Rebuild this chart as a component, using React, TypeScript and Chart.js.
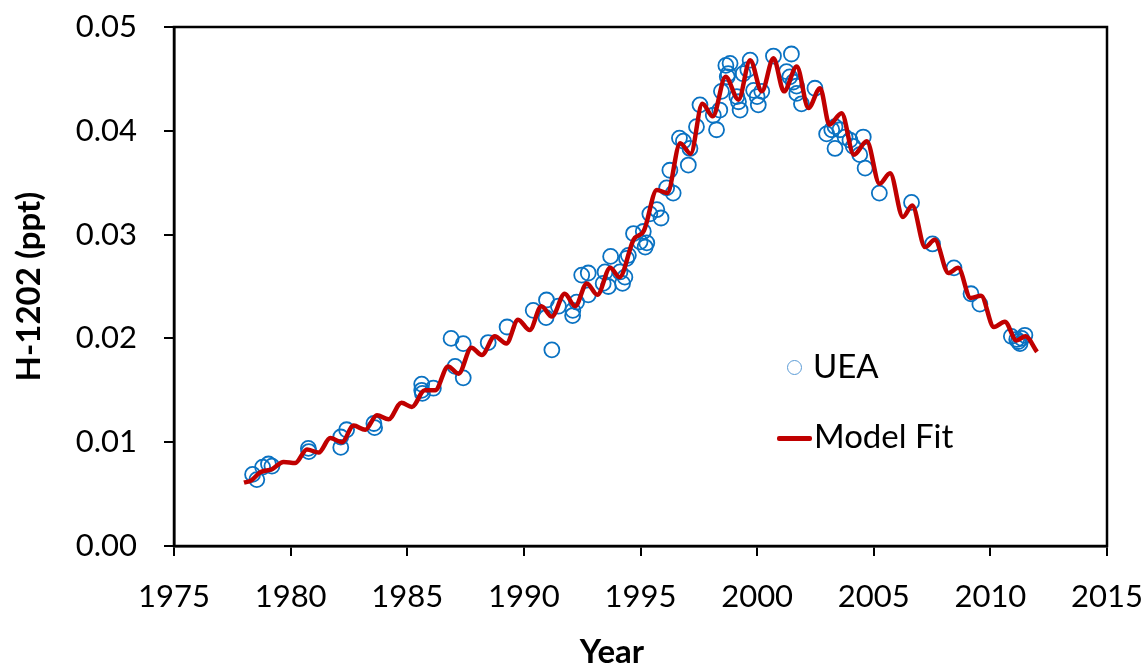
import React, { useEffect, useRef } from 'react';
import { Chart, registerables } from 'chart.js';

Chart.register(...registerables);

// UEA observations (year, ppt)
const ueaYears = [
  1978.37, 1978.55, 1978.8, 1979.05, 1979.2,
  1980.76, 1980.78, 1982.15, 1982.4, 1982.15, 1983.57, 1983.6,
  1985.62, 1985.62, 1985.65, 1986.12, 1986.88, 1987.05, 1987.4, 1987.4,
  1988.47, 1989.28, 1990.4, 1990.97, 1990.95, 1991.2, 1991.48,
  1992.09, 1992.1, 1992.26, 1992.48, 1992.76, 1992.76,
  1993.4, 1993.48, 1993.72, 1993.62, 1994.12, 1994.23, 1994.33, 1994.4, 1994.48,
  1994.7, 1994.98, 1995.12, 1995.2, 1995.27, 1995.4, 1995.7, 1995.88,
  1996.12, 1996.4, 1996.26, 1996.67, 1996.84, 1997.12, 1997.05, 1997.4, 1997.55,
  1998.26, 1998.12, 1998.4, 1998.47, 1998.76, 1998.66, 1998.84, 1998.72,
  1999.2, 1999.27, 1999.13, 1999.4, 1999.6, 1999.7, 1999.85, 2000.0, 2000.05, 2000.2,
  2000.7, 2001.47, 2001.26, 2001.4, 2001.55, 2001.69, 2001.9, 2001.7, 2002.48,
  2002.98, 2003.2, 2003.34, 2003.55, 2003.77, 2003.34,
  2003.98, 2004.12, 2004.4, 2004.63, 2004.55, 2005.24,
  2006.62, 2007.52, 2008.44, 2009.17, 2009.55,
  2010.9, 2011.13, 2011.27, 2011.48, 2011.34, 2011.2,
];
const ueaValues = [
  0.0069, 0.0064, 0.0076, 0.0079, 0.0077,
  0.0094, 0.0091, 0.0105, 0.0112, 0.0095, 0.0118, 0.0114,
  0.0156, 0.015, 0.0147, 0.0152, 0.02, 0.0173, 0.0195, 0.0162,
  0.0196, 0.0211, 0.0227, 0.0237, 0.022, 0.0189, 0.0231,
  0.0222, 0.0227, 0.0235, 0.0261, 0.0263, 0.0242,
  0.0253, 0.0264, 0.0279, 0.025, 0.0264, 0.0253, 0.0259, 0.0277, 0.028,
  0.0301, 0.0293, 0.0303, 0.0288, 0.0292, 0.032, 0.0324, 0.0316,
  0.0345, 0.034, 0.0362, 0.0393, 0.039, 0.0383, 0.0367, 0.0404, 0.0425,
  0.0401, 0.0415, 0.042, 0.0438, 0.0455, 0.0463, 0.0465, 0.0452,
  0.0428, 0.042, 0.0433, 0.0455, 0.0459, 0.0468, 0.0439, 0.0433, 0.0425, 0.0438,
  0.0472, 0.0474, 0.0457, 0.0452, 0.0447, 0.0443, 0.0426, 0.0436, 0.0441,
  0.0397, 0.0401, 0.0404, 0.0401, 0.0394, 0.0383,
  0.0391, 0.0385, 0.0377, 0.0364, 0.0394, 0.034,
  0.0331, 0.0291, 0.0268, 0.0243, 0.0233,
  0.0202, 0.0199, 0.0195, 0.0203, 0.02, 0.0197,
];

// Model fit curve (year, ppt), read at its peaks and troughs
const fitYears = [
  1978.0, 1978.3, 1978.7, 1979.2, 1979.7, 1980.2, 1980.7, 1981.2, 1981.7, 1982.2,
  1982.7, 1983.2, 1983.7, 1984.2, 1984.75, 1985.2, 1985.75, 1986.2, 1986.75, 1987.2,
  1987.75, 1988.2, 1988.75, 1989.25, 1989.75, 1990.25, 1990.75, 1991.2, 1991.75, 1992.2,
  1992.7, 1993.15, 1993.7, 1994.1, 1994.7, 1995.15, 1995.7, 1996.15, 1996.7, 1997.15,
  1997.65, 1998.1, 1998.65, 1999.2, 1999.7, 2000.2, 2000.7, 2001.15, 2001.7, 2002.2,
  2002.7, 2003.1, 2003.62, 2004.15, 2004.7, 2005.25, 2005.7, 2006.25, 2006.65, 2007.2,
  2007.62, 2008.2, 2008.62, 2009.15, 2009.6, 2010.15, 2010.62, 2011.12, 2011.5, 2012.0,
];
const fitValues = [
  0.0061, 0.0063, 0.0071, 0.0074, 0.0081, 0.008, 0.0093, 0.009, 0.0104, 0.01,
  0.0116, 0.0112, 0.0126, 0.0122, 0.0138, 0.0134, 0.015, 0.015, 0.0173, 0.0166,
  0.0191, 0.0184, 0.0202, 0.0195, 0.0218, 0.0208, 0.0231, 0.0221, 0.0243, 0.0231,
  0.0253, 0.0242, 0.0268, 0.0259, 0.0295, 0.0304, 0.0343, 0.034, 0.0388, 0.0378,
  0.0426, 0.0414, 0.0452, 0.043, 0.0468, 0.0438, 0.047, 0.0438, 0.0462, 0.0422,
  0.0441, 0.0406, 0.0417, 0.0377, 0.039, 0.0349, 0.0359, 0.0317, 0.0328, 0.0288,
  0.0295, 0.0263, 0.0268, 0.0239, 0.0241, 0.0211, 0.0216, 0.0198, 0.0202, 0.0187,
];

const xTicks = [1975, 1980, 1985, 1990, 1995, 2000, 2005, 2010, 2015];
const yTicks = [0, 0.01, 0.02, 0.03, 0.04, 0.05];

const FONT = 'Lato, "Open Sans", sans-serif';

const boxPlugin = {
  id: 'plotBox',
  afterDraw(chart: any) {
    const { ctx, chartArea: a } = chart;
    ctx.save();
    ctx.strokeStyle = '#000';
    ctx.lineWidth = 2.5;
    ctx.strokeRect(a.left, a.top, a.right - a.left, a.bottom - a.top);
    ctx.restore();
  },
};

const clearPadding = (s: any) => {
  s.paddingTop = 0;
  s.paddingBottom = 0;
  s.paddingLeft = 0;
  s.paddingRight = 0;
};

export default function App() {
  const canvasRef = useRef<HTMLCanvasElement | null>(null);

  useEffect(() => {
    const canvas = canvasRef.current;
    if (!canvas) return;
    const chart = new Chart(canvas, {
      type: 'scatter',
      data: {
        datasets: [
          {
            type: 'line',
            label: 'Model Fit',
            data: fitYears.map((x, i) => ({ x, y: fitValues[i] })),
            borderColor: '#C00000',
            backgroundColor: '#C00000',
            borderWidth: 4.5,
            pointRadius: 0,
            pointHoverRadius: 0,
            cubicInterpolationMode: 'monotone',
            fill: false,
            order: 0,
          } as any,
          {
            type: 'scatter',
            label: 'UEA',
            data: ueaYears.map((x, i) => ({ x, y: ueaValues[i] })),
            pointRadius: 7.5,
            pointHoverRadius: 7.5,
            pointBorderColor: '#0A72C2',
            pointBackgroundColor: 'rgba(0,0,0,0)',
            pointBorderWidth: 1.8,
            showLine: false,
            order: 1,
          } as any,
        ],
      },
      options: {
        responsive: false,
        animation: false,
        events: [],
        layout: { padding: { left: 0, top: 27, right: 40, bottom: 0 } },
        plugins: {
          legend: { display: false },
          tooltip: { enabled: false },
        },
        scales: {
          x: {
            type: 'linear',
            min: 1975,
            max: 2015,
            afterBuildTicks: (s: any) => {
              s.ticks = xTicks.map((v) => ({ value: v }));
            },
            afterFit: (s: any) => {
              s.height = 120;
              clearPadding(s);
            },
            ticks: {
              callback: (v: any) => String(v),
              font: { family: FONT, size: 31 },
              color: '#000',
              padding: 22,
              maxRotation: 0,
              autoSkip: false,
            },
            grid: {
              drawOnChartArea: false,
              drawTicks: true,
              tickLength: 10,
              color: '#000',
              tickColor: '#000',
              lineWidth: 2,
              tickWidth: 2,
            },
            border: { display: true, color: '#000', width: 2.5 },
            title: { display: false },
          },
          y: {
            type: 'linear',
            min: 0,
            max: 0.05,
            afterBuildTicks: (s: any) => {
              s.ticks = yTicks.map((v) => ({ value: v }));
            },
            afterFit: (s: any) => {
              s.width = 174;
              clearPadding(s);
            },
            ticks: {
              callback: (v: any) => Number(v).toFixed(2),
              font: { family: FONT, size: 31 },
              color: '#000',
              padding: 27,
            },
            grid: {
              drawOnChartArea: false,
              drawTicks: true,
              tickLength: 10,
              color: '#000',
              tickColor: '#000',
              lineWidth: 2,
              tickWidth: 2,
            },
            border: { display: true, color: '#000', width: 2.5 },
            title: {
              display: true,
              text: 'H-1202 (ppt)',
              color: '#000',
              font: { family: FONT, size: 33, weight: 'bold', lineHeight: 1.2 },
              padding: { top: 10, bottom: 0 },
            },
          },
        },
      },
      plugins: [boxPlugin],
    });
    return () => chart.destroy();
  }, []);

  const legendText: React.CSSProperties = {
    position: 'absolute',
    fontFamily: FONT,
    fontSize: 33,
    lineHeight: '33px',
    color: '#000',
    whiteSpace: 'nowrap',
  };

  return (
    <div style={{ position: 'absolute', left: 0, top: 0, width: 1147, height: 666, background: '#fff' }}>
      <canvas ref={canvasRef} width={1147} height={666} style={{ display: 'block' }} />
      <div
        style={{
          position: 'absolute',
          left: 512,
          top: 634,
          width: 200,
          textAlign: 'center',
          fontFamily: FONT,
          fontSize: 33,
          fontWeight: 'bold',
          lineHeight: '33px',
          color: '#000',
        }}
      >
        Year
      </div>
      <div
        style={{
          position: 'absolute',
          left: 787,
          top: 360,
          width: 13,
          height: 13,
          borderRadius: '50%',
          border: '1.6px solid #5B9BD5',
        }}
      />
      <div style={{ ...legendText, left: 813, top: 349 }}>UEA</div>
      <div
        style={{
          position: 'absolute',
          left: 777,
          top: 436,
          width: 35,
          height: 5,
          background: '#C00000',
          borderRadius: 2,
        }}
      />
      <div style={{ ...legendText, left: 814, top: 419 }}>Model Fit</div>
    </div>
  );
}
